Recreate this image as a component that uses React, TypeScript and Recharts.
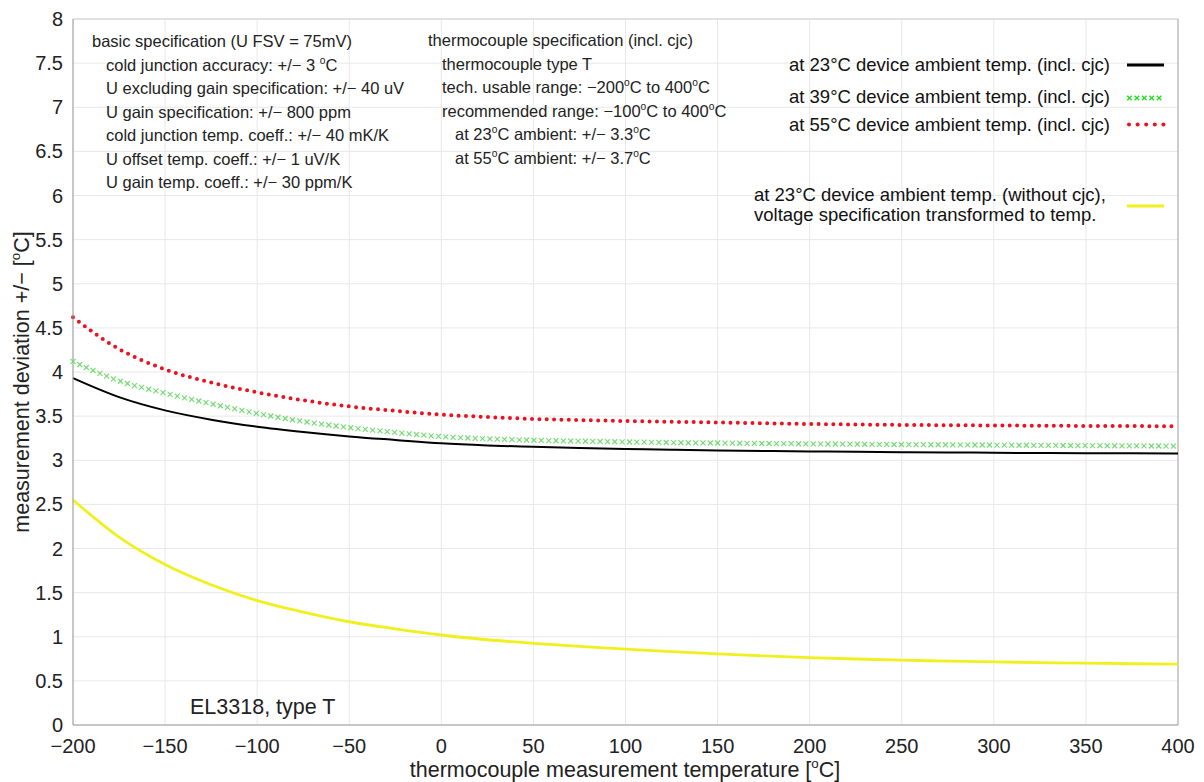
import React, { useEffect, useState } from 'react';
import { LineChart, Line, XAxis, YAxis, CartesianGrid, ReferenceLine } from 'recharts';

const temps = [-200, -175, -150, -125, -100, -75, -50, -25, 0, 25, 50, 75, 100, 125, 150, 175, 200, 225, 250, 275, 300, 325, 350, 375, 400];
const at23 = [3.93, 3.715, 3.565, 3.46, 3.38, 3.32, 3.27, 3.23, 3.192, 3.168, 3.152, 3.139, 3.128, 3.119, 3.111, 3.105, 3.1, 3.095, 3.091, 3.088, 3.085, 3.082, 3.08, 3.078, 3.077];
const at39 = [4.12, 3.9, 3.76, 3.64, 3.53, 3.44, 3.37, 3.315, 3.268, 3.243, 3.227, 3.216, 3.208, 3.2, 3.195, 3.19, 3.186, 3.182, 3.178, 3.175, 3.172, 3.169, 3.166, 3.163, 3.16];
const at55 = [4.62, 4.26, 4.03, 3.88, 3.77, 3.68, 3.61, 3.56, 3.517, 3.49, 3.468, 3.455, 3.445, 3.436, 3.428, 3.419, 3.411, 3.405, 3.4, 3.397, 3.394, 3.391, 3.389, 3.387, 3.386];
const noCjc = [2.55, 2.13, 1.82, 1.59, 1.41, 1.28, 1.17, 1.09, 1.02, 0.966, 0.925, 0.89, 0.86, 0.832, 0.807, 0.784, 0.764, 0.748, 0.734, 0.724, 0.715, 0.707, 0.7, 0.694, 0.689];

const xTicks = [-200, -150, -100, -50, 0, 50, 100, 150, 200, 250, 300, 350, 400];
const yTicks = [0, 0.5, 1, 1.5, 2, 2.5, 3, 3.5, 4, 4.5, 5, 5.5, 6, 6.5, 7, 7.5, 8];

const legendLabels = [
  'at 23°C device ambient temp. (incl. cjc)',
  'at 39°C device ambient temp. (incl. cjc)',
  'at 55°C device ambient temp. (incl. cjc)',
];
const legendYellow = ['at 23°C device ambient temp. (without cjc),', 'voltage specification transformed to temp.'];

const rows = temps.map((t, i) => ({ t, a23: at23[i], a39: at39[i], a55: at55[i], raw: noCjc[i] }));

const FONT = '"Liberation Sans", Arial, Helvetica, sans-serif';
const GREEN_KEY = '#7fe07e';
const TXT = '#222';

const Deg = ({ size }: { size: number }) => (
  <>
    <tspan dy={-size * 0.42} fontSize={size * 0.62}>o</tspan>
    <tspan dy={size * 0.42}>C</tspan>
  </>
);

const minus = (v: number) => String(v).replace('-', '\u2212');

export default function App() {
  const [crosses, setCrosses] = useState<Array<[number, number]>>([]);

  useEffect(() => {
    let tries = 0;
    let id: any;
    const run = () => {
      const paths = Array.from(document.querySelectorAll('path')) as SVGPathElement[];
      const p = paths.find((el) => el.getAttribute('stroke') === GREEN_KEY && el.getAttribute('d'));
      if (p) {
        const L = p.getTotalLength();
        const pts: Array<[number, number]> = [];
        for (let s = 0; s <= L; s += 7.35) {
          const pt = p.getPointAtLength(s);
          pts.push([pt.x, pt.y]);
        }
        setCrosses(pts);
      } else if (tries++ < 200) {
        id = setTimeout(run, 20);
      }
    };
    run();
    return () => clearTimeout(id);
  }, []);

  const fs = 16.5;
  const leftLines: React.ReactNode[] = [
    <>basic specification (U FSV = 75mV)</>,
    <>cold junction accuracy: +/{'\u2212'} 3 <Deg size={fs} /></>,
    <>U excluding gain specification: +/{'\u2212'} 40 uV</>,
    <>U gain specification: +/{'\u2212'} 800 ppm</>,
    <>cold junction temp. coeff.: +/{'\u2212'} 40 mK/K</>,
    <>U offset temp. coeff.: +/{'\u2212'} 1 uV/K</>,
    <>U gain temp. coeff.: +/{'\u2212'} 30 ppm/K</>,
  ];
  const leftX = [92, 106, 106, 106, 106, 106, 106];
  const midLines: React.ReactNode[] = [
    <>thermocouple specification (incl. cjc)</>,
    <>thermocouple type T</>,
    <>tech. usable range: {'\u2212'}200<Deg size={fs} /> to 400<Deg size={fs} /></>,
    <>recommended range: {'\u2212'}100<Deg size={fs} /> to 400<Deg size={fs} /></>,
    <>at 23<Deg size={fs} /> ambient: +/{'\u2212'} 3.3<Deg size={fs} /></>,
    <>at 55<Deg size={fs} /> ambient: +/{'\u2212'} 3.7<Deg size={fs} /></>,
  ];
  const midX = [428, 442, 442, 442, 455, 455];

  return (
    <div style={{ position: 'absolute', left: 0, top: 0, width: 1204, height: 782, background: '#fff', fontFamily: FONT }}>
      <LineChart width={1204} height={782} data={rows} margin={{ top: 19, right: 26, left: 0, bottom: 0 }}>
        <CartesianGrid stroke="#e8e8e8" strokeWidth={1} />
        <XAxis
          dataKey="t"
          type="number"
          domain={[-200, 400]}
          ticks={xTicks}
          height={57}
          tickSize={0}
          tickMargin={14}
          tickLine={false}
          axisLine={{ stroke: '#9a9a9a' }}
          tick={{ fontSize: 20, fill: TXT, fontFamily: FONT }}
          tickFormatter={(v: number) => minus(v)}
          interval={0}
        />
        <YAxis
          type="number"
          domain={[0, 8]}
          ticks={yTicks}
          width={73}
          tickSize={0}
          tickMargin={10}
          tickLine={false}
          axisLine={{ stroke: '#9a9a9a' }}
          tick={{ fontSize: 20, fill: TXT, fontFamily: FONT }}
          interval={0}
        />
        <ReferenceLine x={400} stroke="#a8a8a8" />
        <ReferenceLine y={8} stroke="#d0d0d0" />
        <Line dataKey="raw" type="monotone" stroke="#f0f01e" strokeWidth={2.8} dot={false} activeDot={false} isAnimationActive={false} />
        <Line dataKey="a39" type="monotone" stroke={GREEN_KEY} strokeOpacity={0} strokeWidth={1} dot={false} activeDot={false} isAnimationActive={false} />
        <Line dataKey="a23" type="monotone" stroke="#000" strokeWidth={2} dot={false} activeDot={false} isAnimationActive={false} />
        <Line dataKey="a55" type="monotone" stroke="#ee1020" strokeWidth={4} strokeDasharray="0 7.35" strokeLinecap="round" dot={false} activeDot={false} isAnimationActive={false} />
      </LineChart>
      <svg width={1204} height={782} style={{ position: 'absolute', left: 0, top: 0, pointerEvents: 'none' }} fontFamily={FONT}>
        {crosses.map(([x, y], i) => (
          <g key={i} stroke="#6ad86a" strokeWidth={1.2} strokeOpacity={0.9}>
            <line x1={x - 2.5} y1={y - 2.5} x2={x + 2.5} y2={y + 2.5} />
            <line x1={x - 2.5} y1={y + 2.5} x2={x + 2.5} y2={y - 2.5} />
          </g>
        ))}
        {leftLines.map((c, i) => (
          <text key={'l' + i} x={leftX[i]} y={47 + i * 23.55} fontSize={fs} fill={TXT}>{c}</text>
        ))}
        {midLines.map((c, i) => (
          <text key={'m' + i} x={midX[i]} y={46 + i * 23.6} fontSize={fs} fill={TXT}>{c}</text>
        ))}
        {legendLabels.map((s, i) => (
          <text key={'g' + i} x={1110} y={[71, 103, 131][i]} fontSize={18.5} fill="#111" textAnchor="end">{s}</text>
        ))}
        {legendYellow.map((s, i) => (
          <text key={'y' + i} x={754} y={[200.5, 220.5][i]} fontSize={18.5} fill="#111">{s}</text>
        ))}
        <line x1={1127} y1={65} x2={1164} y2={65} stroke="#000" strokeWidth={3} />
        {[0, 1, 2, 3, 4].map((k) => {
          const x = 1129.5 + k * 7.4;
          const y = 98;
          return (
            <g key={'lx' + k} stroke="#22dd22" strokeWidth={1.3}>
              <line x1={x - 2.3} y1={y - 2.3} x2={x + 2.3} y2={y + 2.3} />
              <line x1={x - 2.3} y1={y + 2.3} x2={x + 2.3} y2={y - 2.3} />
            </g>
          );
        })}
        {[0, 1, 2, 3, 4].map((k) => (
          <circle key={'ld' + k} cx={1129 + k * 8.6} cy={124.5} r={2} fill="#ee1020" />
        ))}
        <line x1={1127} y1={206} x2={1164} y2={206} stroke="#f0f01e" strokeWidth={3} />
        <text x={190} y={714} fontSize={21.5} fill={TXT}>EL3318, type T</text>
        <text x={625} y={777} fontSize={21.5} fill={TXT} textAnchor="middle">
          thermocouple measurement temperature [<Deg size={21.5} />]
        </text>
        <text x={0} y={0} fontSize={21.5} fill={TXT} textAnchor="middle" transform="translate(29 382) rotate(-90)">
          measurement deviation +/{'\u2212'} [<Deg size={21.5} />]
        </text>
      </svg>
    </div>
  );
}
